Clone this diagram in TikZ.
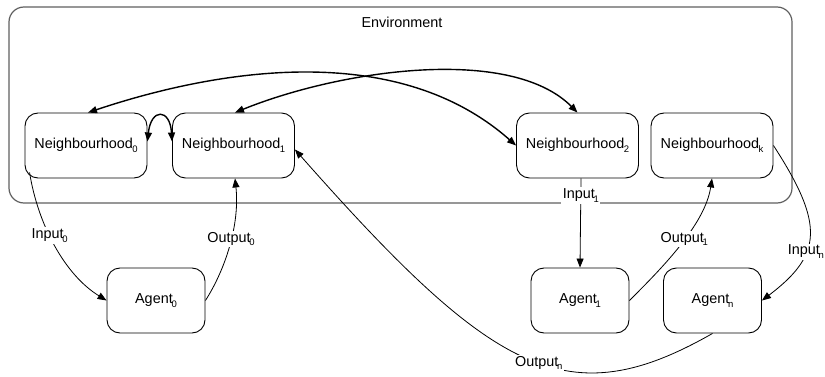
\documentclass[tikz,border=0pt]{standalone}
\usepackage{fontspec}
\setmainfont{Liberation Sans}
\usetikzlibrary{arrows.meta}
\definecolor{envgray}{RGB}{96,96,96}
% lowered index that tucks in close to the last letter
\newcommand{\idx}[1]{\kern-1.2pt\raisebox{-3.5pt}{\fontsize{9.5}{9.5}\selectfont #1}}
\newcommand{\nidx}[1]{\kern-0.6pt\raisebox{-3.5pt}{\fontsize{9.5}{9.5}\selectfont #1}}

\begin{document}
\begin{tikzpicture}[x=1pt,y=-1pt,
  font=\fontsize{14.4}{16}\selectfont,
  envbox/.style={draw=envgray,rounded corners=15pt,line width=1.2pt,
    minimum width=783pt,minimum height=196pt,inner sep=0pt},
  hood/.style={draw,rounded corners=13pt,minimum width=122pt,
    minimum height=65pt,line width=0.9pt,inner sep=0pt},
  agentbox/.style={draw,rounded corners=13pt,minimum width=98pt,
    minimum height=65pt,line width=0.9pt,inner sep=0pt},
  link/.style={line width=1.4pt,
    {Triangle[length=9pt,width=7pt]}-{Triangle[length=9pt,width=7pt]}},
  flow/.style={line width=0.8pt,-{Triangle[length=9pt,width=7pt]}},
  lbl/.style={fill=white,inner sep=1.5pt}]

\useasboundingbox (0,0) rectangle (825,377);

% environment frame
\node[envbox] (env) at (400.5,105) {};
\node (envlabel) at (402,22) {Environment};

% neighbourhoods
\node[hood] (n0) at (86,145.5)    {Neighbourhood\nidx{0}};
\node[hood] (n1) at (233.5,145.5) {Neighbourhood\nidx{1}};
\node[hood] (n2) at (577.5,145.5) {Neighbourhood\nidx{2}};
\node[hood] (nk) at (712,145.5)   {Neighbourhood\nidx{k}};

% agents
\node[agentbox] (a0) at (156,300.5) {Agent\idx{0}};
\node[agentbox] (a1) at (580,300.5) {Agent\idx{1}};
\node[agentbox] (an) at (712.5,300.5) {Agent\idx{n}};

% links between neighbourhoods
\draw[link] ([xshift=2pt]n0.north) .. controls (200,75) and (390,34) .. (n2.west);
\draw[link] ([xshift=1.5pt]n1.north) .. controls (340,70) and (510,45) .. (n2.north);
\draw[link] ([yshift=4pt]n0.east) .. controls (151,108) and (170,108) .. ([yshift=4pt]n1.west);

% inputs and outputs of the agents
\draw[flow] ([xshift=5pt,yshift=6pt]n0.south west) .. controls (38,225) and (65,275)
  .. node[lbl,pos=0.42] {Input\idx{0}} (a0.west);
\draw[flow] (a0.east) .. controls (225,270) and (240,225)
  .. node[lbl,pos=0.55] {Output\idx{0}} ([xshift=1.5pt]n1.south);
\draw[flow] (an.south) .. controls (568,416) and (494,375)
  .. node[lbl,pos=0.46] {Output\idx{n}} ([yshift=-4pt]n1.east);
\draw[flow] ([xshift=3.5pt]n2.south) -- node[lbl,pos=0.19] {Input\idx{1}} (a1.north);
\draw[flow] (a1.east) .. controls (660,270) and (705,225)
  .. node[lbl,pos=0.55] {Output\idx{1}} (nk.south);
\draw[flow] (nk.east) .. controls (825,225) and (822,255)
  .. node[lbl,pos=0.62] {Input\idx{n}} (an.east);
\end{tikzpicture}
\end{document}
